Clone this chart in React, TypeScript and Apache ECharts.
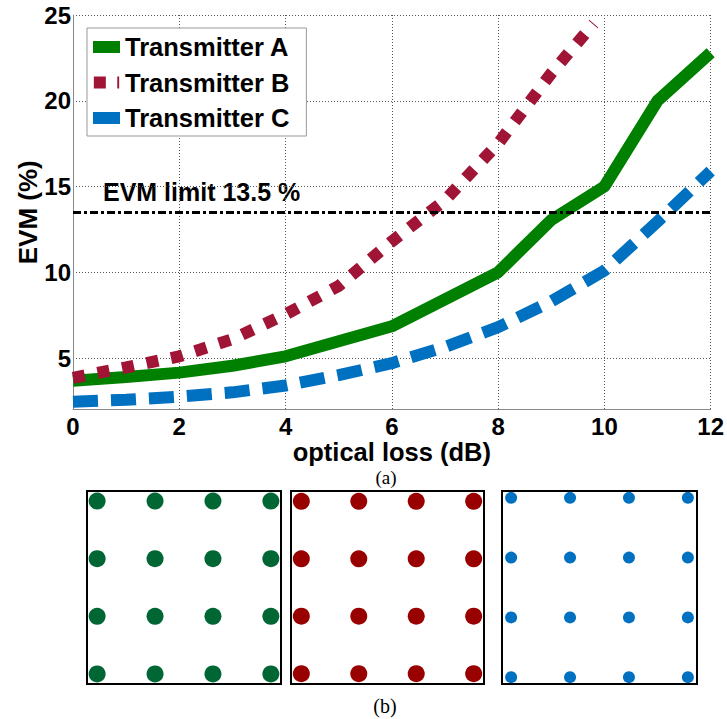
import React, { useEffect, useRef } from 'react';
import * as echarts from 'echarts';

// ---- data ----
const lossTicks = [0, 2, 4, 6, 8, 10, 12];
const evmTicks = [5, 10, 15, 20, 25];
const seriesNames = ['Transmitter A', 'Transmitter B', 'Transmitter C'];
const txA: number[][] = [
  [0, 3.68], [1, 3.9], [2, 4.15], [3, 4.55], [4, 5.1], [6, 6.85],
  [8, 10.0], [9, 13.05], [10, 15.0], [11, 20.0], [12, 22.8],
];
const txB: number[][] = [
  [0, 3.85], [1, 4.45], [2, 5.1], [3, 6.1], [4, 7.55], [5, 9.2],
  [6, 11.8], [7, 14.2], [8, 17.5], [9, 21.6], [9.8, 24.5],
];
const txC: number[][] = [
  [0, 2.45], [1, 2.57], [2, 2.75], [3, 3.0], [4, 3.4], [5, 4.0],
  [6, 4.7], [7, 5.65], [8, 6.8], [9, 8.3], [10, 10.1], [11, 12.95], [12, 15.9],
];
const evmLimit = 13.5;
const limitLabel = 'EVM limit 13.5 %';
const qamLevels = [-3, -1, 1, 3];

const colA = '#008000';
const colB = '#A01535';
const colC = '#0070C0';
const constColors = ['#006633', '#990000', '#0070C0'];
const constSizes = [17, 17, 12];

const FONT = '"Liberation Sans", Arial, sans-serif';

export default function App() {
  const ref = useRef<HTMLDivElement>(null);
  useEffect(() => {
    if (!ref.current) return;
    const chart = echarts.init(ref.current, undefined, { renderer: 'svg' });

    const qamPoints: number[][] = [];
    qamLevels.forEach((i) => qamLevels.forEach((q) => qamPoints.push([i, q])));

    const constGrids = [
      { left: 87, top: 491, width: 194, height: 193 },
      { left: 291, top: 491, width: 193, height: 193 },
      { left: 502, top: 491, width: 195, height: 193 },
    ];
    const constRanges = [
      [3.35, 3.35],
      [3.36, 3.36],
      [3.31, 3.23],
    ];

    const option: any = {
      animation: false,
      backgroundColor: '#fff',
      grid: [
        { left: 73, top: 15, width: 639, height: 394.5, show: false },
        ...constGrids.map((g) => ({ ...g, show: true, borderColor: '#000', borderWidth: 2, backgroundColor: 'transparent' })),
      ],
      legend: {
        left: 87,
        top: 28,
        orient: 'vertical',
        padding: [6, 17, 5, 6],
        itemGap: 9.5,
        itemWidth: 27,
        itemHeight: 12,
        backgroundColor: '#fff',
        borderColor: '#999',
        borderWidth: 1,
        borderRadius: 0,
        itemStyle: { borderWidth: 0 },
        textStyle: { fontFamily: FONT, fontWeight: 'bold', fontSize: 25.5, color: '#000', padding: [0, 0, 0, 0] },
        selectedMode: false,
        data: [
          { name: seriesNames[0], icon: 'rect' },
          { name: seriesNames[1], icon: 'path://M0,0h12.6v12.6h-12.6z M24.6,0h2v12.6h-2z' },
          { name: seriesNames[2], icon: 'rect' },
        ],
      },
      xAxis: [
        {
          gridIndex: 0,
          type: 'value',
          min: 0,
          max: 12,
          interval: 2,
          name: 'optical loss (dB)',
          nameLocation: 'middle',
          nameGap: 29,
          nameMoveOverlap: false,
          nameTextStyle: { fontFamily: FONT, fontWeight: 'bold', fontSize: 25.5, color: '#000', lineHeight: 26 },
          axisLine: { show: true, lineStyle: { color: '#888', width: 1 } },
          axisTick: { show: false },
          axisLabel: { fontFamily: FONT, fontWeight: 'bold', fontSize: 24, color: '#000', margin: 5 },
          splitLine: { show: true, lineStyle: { color: '#555', width: 1, type: [1, 2] } },
        },
        ...constGrids.map((g, k) => ({
          gridIndex: k + 1, type: 'value', min: -constRanges[k][0], max: constRanges[k][0], show: false,
        })),
      ],
      yAxis: [
        {
          gridIndex: 0,
          type: 'value',
          min: 2,
          max: 25,
          name: 'EVM (%)',
          nameLocation: 'middle',
          nameGap: 32,
          nameMoveOverlap: false,
          nameTextStyle: { fontFamily: FONT, fontWeight: 'bold', fontSize: 26, color: '#000', lineHeight: 26 },
          axisLine: { show: true, lineStyle: { color: '#888', width: 1 } },
          axisTick: { show: false, customValues: evmTicks },
          axisLabel: { fontFamily: FONT, fontWeight: 'bold', fontSize: 24, color: '#000', margin: 2, customValues: evmTicks },
          splitLine: { show: true, lineStyle: { color: '#555', width: 1, type: [1, 2] } },
        },
        ...constGrids.map((g, k) => ({
          gridIndex: k + 1, type: 'value', min: -constRanges[k][1], max: constRanges[k][1], show: false,
        })),
      ],
      series: [
        {
          name: seriesNames[0], type: 'line', xAxisIndex: 0, yAxisIndex: 0, data: txA, symbol: 'none',
          color: colA, itemStyle: { color: colA },
          lineStyle: { color: colA, width: 12, type: 'solid', join: 'bevel' },
        },
        {
          name: seriesNames[1], type: 'line', xAxisIndex: 0, yAxisIndex: 0, data: txB, symbol: 'none',
          color: colB, itemStyle: { color: colB },
          lineStyle: { color: colB, width: 12, type: [12, 13], cap: 'butt' },
        },
        {
          name: seriesNames[2], type: 'line', xAxisIndex: 0, yAxisIndex: 0, data: txC, symbol: 'none',
          color: colC, itemStyle: { color: colC },
          lineStyle: { color: colC, width: 12, type: [25, 13], cap: 'butt' },
        },
        {
          name: 'limit', type: 'line', xAxisIndex: 0, yAxisIndex: 0, data: [], z: 5,
          markLine: {
            silent: true, symbol: 'none', animation: false,
            label: { show: false },
            lineStyle: { color: '#000', width: 3, type: [8, 3, 3, 3] },
            data: [{ yAxis: evmLimit }],
          },
        },
        ...constColors.map((c, k) => ({
          name: 'const' + k, type: 'scatter', xAxisIndex: k + 1, yAxisIndex: k + 1,
          data: qamPoints, symbol: 'circle', symbolSize: constSizes[k],
          itemStyle: { color: c, opacity: 1 },
          silent: true,
        })),
      ],
      graphic: [
        {
          type: 'text', left: 103, top: 179,
          style: { text: limitLabel, font: `bold 25px ${FONT}`, fill: '#000' },
        },
        {
          type: 'text', x: 386, y: 477,
          style: { text: '(a)', font: '19px "Liberation Serif", "Times New Roman", serif', fill: '#000', textAlign: 'center', textVerticalAlign: 'middle' },
        },
        {
          type: 'text', x: 385, y: 706,
          style: { text: '(b)', font: '20px "Liberation Serif", "Times New Roman", serif', fill: '#000', textAlign: 'center', textVerticalAlign: 'middle' },
        },
      ],
    };
    chart.setOption(option);
    return () => chart.dispose();
  }, []);
  return (
    <div
      ref={ref}
      style={{ position: 'fixed', left: 0, top: 0, width: 727, height: 719, background: '#fff' }}
    />
  );
}
